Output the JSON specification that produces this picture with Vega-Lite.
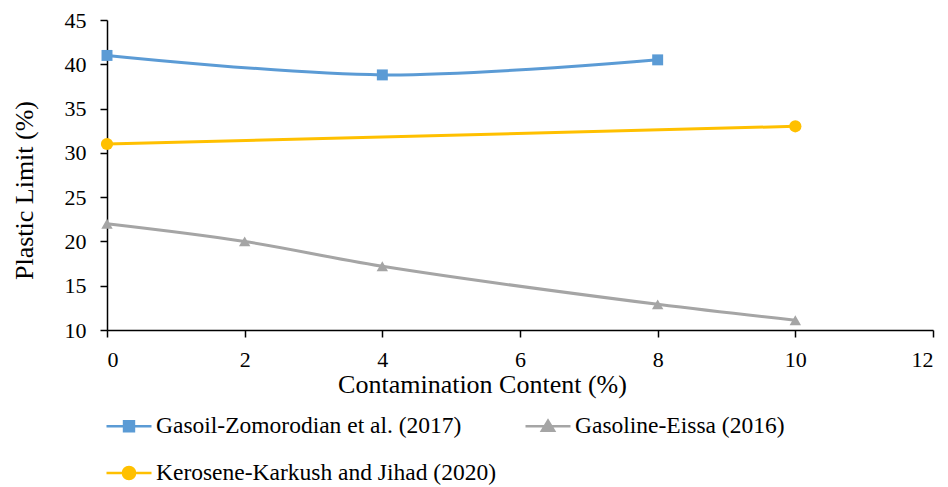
{
  "$schema": "https://vega.github.io/schema/vega-lite/v6.json",
  "autosize": "none",
  "width": 826,
  "height": 310,
  "padding": {"left": 107, "top": 20, "right": 15, "bottom": 157},
  "background": "white",
  "config": {
    "view": {"stroke": null},
    "font": "Liberation Serif",
    "axis": {"grid": false, "domainColor": "#000", "tickColor": "#000", "domainWidth": 1.5, "tickWidth": 1.5, "tickSize": 7, "labelColor": "#000", "titleColor": "#000", "labelFont": "Liberation Serif", "titleFont": "Liberation Serif", "labelFontSize": 22, "titleFontSize": 26, "titleFontWeight": "normal"}
  },
  "data": {
    "values": [
      {"series": "Gasoil-Zomorodian et al. (2017)", "x": 0, "y": 41.0},
      {"series": "Gasoil-Zomorodian et al. (2017)", "x": 4, "y": 38.8},
      {"series": "Gasoil-Zomorodian et al. (2017)", "x": 8, "y": 40.5},
      {"series": "Gasoline-Eissa (2016)", "x": 0, "y": 22.0},
      {"series": "Gasoline-Eissa (2016)", "x": 2, "y": 20.0},
      {"series": "Gasoline-Eissa (2016)", "x": 4, "y": 17.2},
      {"series": "Gasoline-Eissa (2016)", "x": 8, "y": 12.9},
      {"series": "Gasoline-Eissa (2016)", "x": 10, "y": 11.1},
      {"series": "Kerosene-Karkush and Jihad (2020)", "x": 0, "y": 31.0},
      {"series": "Kerosene-Karkush and Jihad (2020)", "x": 10, "y": 33.0}
    ]
  },
  "encoding": {
    "x": {"field": "x", "type": "quantitative", "title": "Contamination Content (%)",
      "scale": {"domain": [0, 12], "nice": false, "zero": false},
      "axis": {"values": [0, 2, 4, 6, 8, 10, 12], "labelFont": "Liberation Serif", "labelFontSize": 22, "titleFont": "Liberation Serif", "titleFontSize": 26, "labelPadding": 12, "titleBaseline": "alphabetic", "titleY": 62, "titleX": 375, "titleAlign": "center"}},
    "y": {"field": "y", "type": "quantitative", "title": "Plastic Limit (%)",
      "scale": {"domain": [10, 45], "nice": false, "zero": false},
      "axis": {"values": [10, 15, 20, 25, 30, 35, 40, 45], "labelFont": "Liberation Serif", "labelFontSize": 22, "titleFont": "Liberation Serif", "titleFontSize": 26, "labelPadding": 14, "titleX": -83, "titleY": 170, "titleAngle": -90, "titleBaseline": "middle", "titleAlign": "center"}},
    "color": {"field": "series", "type": "nominal",
      "scale": {"domain": ["Gasoil-Zomorodian et al. (2017)", "Gasoline-Eissa (2016)", "Kerosene-Karkush and Jihad (2020)"], "range": ["#5B9BD5", "#A5A5A5", "#FFC000"]},
      "legend": {"orient": "none", "legendX": -2, "legendY": 382, "columns": 2, "title": null, "padding": 0,
        "values": ["Gasoil-Zomorodian et al. (2017)", "Kerosene-Karkush and Jihad (2020)", "Gasoline-Eissa (2016)"],
        "labelFont": "Liberation Serif", "labelFontSize": 23.5, "labelColor": "#000", "labelOffset": 3, "labelLimit": 0,
        "columnPadding": 24, "rowPadding": 11, "symbolSize": 2025, "symbolStrokeWidth": 2.5,
        "encode": {"symbols": {"update": {
          "shape": {"signal": "datum.value == 'Gasoil-Zomorodian et al. (2017)' ? 'M-1,0H1M-0.22,-0.22H0.22V0.22H-0.22Z' : datum.value == 'Gasoline-Eissa (2016)' ? 'M-1,0H1M0,-0.25L0.27,0.2H-0.27Z' : 'M-1,0H1M0.27,0A0.27,0.27 0 1,1 -0.27,0A0.27,0.27 0 1,1 0.27,0Z'"},
          "fill": {"scale": "color", "field": "value"},
          "stroke": {"scale": "color", "field": "value"},
          "strokeWidth": {"value": 2.5},
          "opacity": {"value": 1}
        }}}}
    }
  },
  "layer": [
    {"mark": {"type": "line", "interpolate": "catmull-rom", "strokeWidth": 3}},
    {"transform": [{"filter": "datum.series == 'Gasoil-Zomorodian et al. (2017)'"}],
      "mark": {"type": "point", "shape": "square", "filled": true, "opacity": 1, "size": 120}},
    {"transform": [{"filter": "datum.series == 'Gasoline-Eissa (2016)'"}],
      "mark": {"type": "point", "shape": "triangle-up", "filled": true, "opacity": 1, "size": 130}},
    {"transform": [{"filter": "datum.series == 'Kerosene-Karkush and Jihad (2020)'"}],
      "mark": {"type": "point", "shape": "circle", "filled": true, "opacity": 1, "size": 150}}
  ]
}
